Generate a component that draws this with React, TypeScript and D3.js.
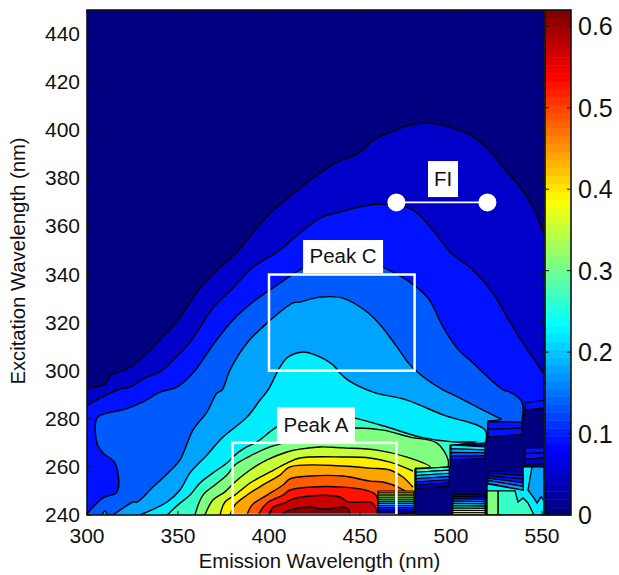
import React from 'react'
import * as d3 from 'd3'

type Pt = [number, number]

const W = 619
const H = 575
const plot = { left: 87, right: 544, top: 10, bottom: 515 }
const bar = { left: 545, right: 571 }

const xTicks = [300, 350, 400, 450, 500, 550]
const yTicks = [240, 260, 280, 300, 320, 340, 360, 380, 400, 420, 440]
const barTicks = [0, 0.1, 0.2, 0.3, 0.4, 0.5, 0.6]

// one value per filled band, 0 is the background
const bandValues = [0, 0.0443, 0.0886, 0.1329, 0.1771, 0.2214, 0.2657, 0.31, 0.3543, 0.3986, 0.4429, 0.4871, 0.5314, 0.5757, 0.62]

// contour lines as [emission, excitation]
const c01: Pt[] = [[300, 292.8], [300.5, 292.8], [309.9, 294.5], [312.6, 297.8], [323.6, 301.5], [333, 307.4], [341.2, 314], [350, 321.1], [360.4, 332.7], [371.4, 341.9], [382.4, 349.4], [392.3, 358.5], [400.6, 365.6], [417, 376], [426.4, 381.4], [437.4, 386.8], [450, 390.9], [457.2, 395.9], [468.1, 399.7], [477.5, 402.2], [488.5, 403], [499.5, 401.3], [510.5, 398], [519.8, 392.6], [528.6, 384.7], [537.9, 376.4], [545.1, 368.1], [552, 355]]
const c02: Pt[] = [[300, 285], [300.5, 285.7], [307.1, 288.6], [318.1, 292.4], [323.6, 293.2], [333, 297.4], [340.1, 299.5], [347.3, 304.4], [356.6, 311.9], [369.2, 326.1], [380.2, 334.4], [391.2, 343.1], [406, 350.2], [417, 357.3], [428, 363.5], [439, 366], [451.7, 368.5], [462.7, 369.3], [472, 368.9], [481.3, 365.6], [490.1, 358.5], [499.5, 349.4], [512.1, 341.9], [523.1, 332.3], [530.8, 322.3], [539.6, 311.5], [552, 298]]
const c03: Pt[] = [[300, 240.5], [308.8, 247.1], [316.5, 249.6], [315.4, 261.6], [308.8, 265.8], [305.5, 269.9], [305.5, 280.3], [311, 282.4], [319.8, 283.7], [330.8, 287], [340.1, 291.1], [349.5, 293.2], [358.2, 299], [369.2, 310.7], [380.2, 321.1], [391.2, 328.6], [406, 336.5], [417, 341.9], [428, 346], [441.8, 348.1], [452.8, 346.9], [462.7, 343.1], [475.8, 337.7], [487.4, 330.2], [495.6, 318.2], [503.3, 309.4], [512.1, 303.2], [528.6, 292], [532.4, 291.1], [539, 287], [539, 279]]
const c04: Pt[] = [[308.2, 240], [309.9, 241.7], [311.5, 240], [313.7, 240], [325.3, 245.4], [327.5, 245.4], [335.7, 251.2], [344.5, 257.5], [351.1, 262.9], [358.2, 275.3], [365.9, 282.8], [371.4, 290.7], [374.2, 292], [378.6, 300.3], [387.9, 311.5], [398.9, 319.8], [413.2, 328.2], [417, 328.6], [428, 330.6], [440.7, 330.2], [453.9, 324.4], [462.1, 318.2], [470.3, 309.9], [479.1, 301.1], [495.6, 292], [499.5, 290.7], [514.3, 284.9], [525.3, 280.7], [527.5, 279.9], [520.3, 279.1]]
const c05: Pt[] = [[329.1, 240], [344, 245.4], [351.1, 250.4], [356.6, 257.5], [365.9, 264.9], [374.7, 272.4], [387.9, 280.7], [395.1, 287.8], [399.5, 292], [406, 301.5], [410.5, 305.7], [418.7, 307.8], [424.2, 306.9], [435.2, 302.4], [439, 299], [443.4, 296.1], [457.2, 291.1], [475.8, 287.8], [495.6, 281.6], [518.7, 275.3], [518.7, 269.1]]
const c06: Pt[] = [[344, 240], [350, 244.2], [356.6, 248.3], [362.1, 253.3], [369.2, 257.5], [376.9, 261.6], [381.3, 264.9], [386.8, 267.9], [393.4, 270.4], [404.4, 276.6], [417, 280.3], [433.5, 282.4], [447.3, 280.3], [464.9, 276.6], [483, 272.4], [501.1, 270.4], [514.3, 270.4], [501.1, 269.1]]
const c07: Pt[] = [[359.3, 240], [363.7, 248.3], [370.3, 252.5], [376.9, 256.6], [381.3, 260.8], [388.5, 264.1], [400.6, 268.3], [407.7, 269.9], [417, 272.8], [433.5, 275.3], [447.3, 276.2], [462.7, 275.3], [477.5, 272.4], [492.3, 269.9], [498.4, 262.9], [498.4, 260]]
const c08: Pt[] = [[364.8, 240], [369.2, 246.2], [375.8, 249.6], [381.3, 253.7], [389.6, 258.7], [398.9, 262.9], [409.9, 266.2], [417, 267.4], [428, 268.3], [440.7, 267.9], [459.4, 267], [475.8, 264.1], [488.5, 260], [480.2, 259.5]]
const c09: Pt[] = [[373.1, 240], [375.8, 245.4], [381.3, 248.3], [389.6, 253.3], [400.6, 257.9], [409.9, 261.6], [417, 263.7], [440.7, 264.1], [455.5, 263.7], [466.5, 262], [479.1, 258.3]]
const c10: Pt[] = [[378.6, 240], [381.3, 244.2], [387.9, 248.3], [396.7, 252.5], [406, 256.6], [411.5, 260], [440.7, 260.4], [455.5, 259.5], [466.5, 258.7], [473.6, 255.8], [479.1, 251.6]]
const c11: Pt[] = [[387.9, 240], [390.7, 244.2], [398.9, 248.3], [407.7, 252.5], [411.5, 255], [422.5, 256.2], [440.7, 256.2], [455.5, 254.1], [462.7, 253.7], [472, 251.2], [476.4, 249.1]]
const c12: Pt[] = [[394, 240], [398.9, 245], [407.7, 248.3], [411.5, 250.4], [422.5, 251.6], [440.7, 251.6], [452.8, 250.4], [458.8, 248.3], [459.9, 240]]
const c13: Pt[] = [[400.6, 240], [401.7, 242.9], [409.9, 245.4], [411.5, 246.2], [422.5, 247.9], [439, 247.5], [443.4, 245.4], [456.6, 245], [459.9, 240]]
const c14: Pt[] = [[406, 240], [411.5, 242.1], [422.5, 243.3], [429.7, 242.5], [442.9, 242.9], [444.5, 240]]
const contourLines = [c01, c02, c03, c04, c05, c06, c07, c08, c09, c10, c11, c12, c13, c14]

// the stepped part on the right, where the signal drops out
const floorNavy: Pt[] = [[480.2, 240], [480.2, 259.1], [499.5, 260], [499.5, 269], [519.5, 270], [520.3, 279], [539.3, 278.5], [540.7, 283.7], [552, 284.5], [552, 240]]
const patch4: Pt[] = [[540, 240], [540, 260], [552, 260], [552, 240]]
const patch5: Pt[] = [[519.8, 240], [519.8, 252.9], [539.6, 250.4], [539.6, 260], [544.5, 260], [542.3, 250.4], [545.1, 247.5], [547.3, 245], [549.5, 247.5], [552, 245], [552, 240]]
const patch6: Pt[] = [[525.8, 240], [525.8, 250], [535.2, 250], [536.8, 245.4], [539.6, 247.1], [542.3, 245], [545.6, 240]]
const patch7: Pt[] = [[519.8, 240], [519.8, 250], [525.8, 250], [525.8, 240]]

// stripes: em range, top ex at both ends, bottom ex at both ends, bands from top to bottom
type Stripes = { em: Pt; top: Pt; low: Pt; bands: number[] }
const stripes1: Stripes = { em: [459.9, 479.7], top: [250, 250], low: [240.5, 240.5], bands: [10, 9, 8, 7, 6, 5, 4, 3, 2, 1, 0] }
const stripes2: Stripes = { em: [480.8, 499], top: [259.1, 260], low: [251, 252], bands: [6, 5, 4, 3, 2, 1] }
const stripes3: Stripes = { em: [500, 518.7], top: [269.1, 268.3], low: [263, 263.5], bands: [5, 4, 3, 2] }
const stripes4: Stripes = { em: [501, 518.7], top: [248.7, 248.3], low: [240, 240], bands: [1, 2, 3, 4, 5, 6, 7, 8, 9] }
const stripes5: Stripes = { em: [520.3, 539], top: [278.8, 278.6], low: [272.4, 273.6], bands: [2, 2] }
const stripes6: Stripes = { em: [520.3, 539.6], top: [258.3, 258], low: [253.3, 250.4], bands: [1, 2, 2, 3, 4] }
const stripes7: Stripes = { em: [540.7, 552], top: [267.9, 268], low: [261, 261.5], bands: [2, 2, 1] }
const stripes8: Stripes = { em: [540.7, 552], top: [286.6, 287.8], low: [283.7, 284.5], bands: [2] }
const stripeSets = [stripes1, stripes2, stripes3, stripes4, stripes5, stripes6, stripes7, stripes8]

const peakBoxes = [
  { em: [400, 480], ex: [300, 340] },
  { em: [380, 470], ex: [240, 270] },
]
const fiPoints: Pt[] = [[470, 370], [520, 370]]
const boxLabels = [
  { text: 'Peak C', em: 440.7, ex: 347.5, w: 80, h: 33 },
  { text: 'Peak A', em: 425.8, ex: 277.5, w: 78, h: 35 },
  { text: 'FI', em: 495.6, ex: 379.7, w: 30, h: 36 },
]

const clamp = (v: number) => Math.max(0, Math.min(1, v))
const jet = (t: number) => {
  const r = clamp(Math.min(4 * t - 1.5, -4 * t + 4.5))
  const g = clamp(Math.min(4 * t - 0.5, -4 * t + 3.5))
  const b = clamp(Math.min(4 * t + 0.5, -4 * t + 2.5))
  return d3.rgb(r * 255, g * 255, b * 255).formatHex()
}

const font = '"Liberation Sans", Arial, sans-serif'

export default function App() {
  const x = d3.scaleLinear().domain([300, 551.1]).range([plot.left, plot.right])
  const y = d3.scaleLinear().domain([240, 450]).range([plot.bottom, plot.top])
  const cbar = d3.scaleLinear().domain([0, 0.62]).range([plot.bottom, plot.top])
  const line = d3.line<Pt>().x(d => x(d[0])).y(d => y(d[1]))
  const smooth = d3.line<Pt>().x(d => x(d[0])).y(d => y(d[1])).curve(d3.curveCatmullRom.alpha(0.5))
  const bandColor = (i: number) => jet(bandValues[i] / 0.62)

  // fill under a contour: follow the line, then drop to the bottom of the axes
  const closed = (pts: Pt[]) => {
    const first = pts[0]
    const last = pts[pts.length - 1]
    return `${smooth(pts)}L${x(last[0])},${y(240)}L${x(first[0])},${y(240)}Z`
  }

  const barSteps = d3.range(64)
  const barH = (plot.bottom - plot.top) / 64

  const renderStripes = (s: Stripes, k: number) => {
    const n = s.bands.length
    const edge = (j: number, side: number) => s.top[side] + (s.low[side] - s.top[side]) * (j / n)
    return (
      <g key={k}>
        {s.bands.map((b, j) => {
          const quad: Pt[] = [
            [s.em[0], edge(j, 0)],
            [s.em[1], edge(j, 1)],
            [s.em[1], edge(j + 1, 1)],
            [s.em[0], edge(j + 1, 0)],
          ]
          return <path key={j} d={line(quad) + 'Z'} fill={bandColor(b)} stroke="#000" strokeWidth={1.1} />
        })}
      </g>
    )
  }

  const patches: [Pt[], number][] = [[floorNavy, 0], [patch4, 4], [patch5, 5], [patch6, 6], [patch7, 7]]

  return (
    <svg width={W} height={H} style={{ position: 'absolute', left: 0, top: 0, background: '#fff' }} fontFamily={font}>
      <defs>
        <clipPath id="plotClip">
          <rect x={plot.left} y={plot.top} width={plot.right - plot.left} height={plot.bottom - plot.top} />
        </clipPath>
      </defs>
      <g clipPath="url(#plotClip)">
        <rect x={plot.left} y={plot.top} width={plot.right - plot.left} height={plot.bottom - plot.top} fill={bandColor(0)} />
        {contourLines.map((pts, i) => (
          <g key={i}>
            <path d={closed(pts)} fill={bandColor(i + 1)} />
            <path d={smooth(pts) ?? ''} fill="none" stroke="#000" strokeWidth={1.4} strokeLinejoin="round" />
          </g>
        ))}
        {patches.map(([pts, b], i) => (
          <path key={i} d={line(pts) + 'Z'} fill={bandColor(b)} stroke="#000" strokeWidth={1.3} />
        ))}
        {stripeSets.map(renderStripes)}
      </g>

      {peakBoxes.map((b, i) => (
        <rect
          key={i}
          x={x(b.em[0])}
          y={y(b.ex[1])}
          width={x(b.em[1]) - x(b.em[0])}
          height={y(b.ex[0]) - y(b.ex[1])}
          fill="none"
          stroke="#fff"
          strokeWidth={2.5}
        />
      ))}
      <path d={line(fiPoints) ?? ''} stroke="#fff" strokeWidth={1.6} fill="none" />
      {fiPoints.map((p, i) => (
        <circle key={i} cx={x(p[0])} cy={y(p[1])} r={9} fill="#fff" />
      ))}
      {boxLabels.map(l => (
        <g key={l.text}>
          <rect x={x(l.em) - l.w / 2} y={y(l.ex) - l.h / 2} width={l.w} height={l.h} fill="#fff" />
          <text x={x(l.em)} y={y(l.ex) + 7} textAnchor="middle" fontSize={20.5} fill="#111">{l.text}</text>
        </g>
      ))}

      {/* colour bar */}
      {barSteps.map(i => (
        <rect key={i} x={bar.left} y={plot.bottom - (i + 1) * barH} width={bar.right - bar.left} height={barH + 0.5} fill={jet(i / 63)} />
      ))}
      <rect x={bar.left} y={plot.top} width={bar.right - bar.left} height={plot.bottom - plot.top} fill="none" stroke="#111" strokeWidth={1.6} />
      {barTicks.map(t => (
        <g key={t}>
          <line x1={bar.left} x2={bar.left + 4} y1={cbar(t)} y2={cbar(t)} stroke="#111" />
          <line x1={bar.right - 4} x2={bar.right} y1={cbar(t)} y2={cbar(t)} stroke="#111" />
          <text x={578} y={cbar(t) + 9} fontSize={25} fill="#111">{t}</text>
        </g>
      ))}

      {/* axes */}
      <rect x={plot.left} y={plot.top} width={plot.right - plot.left} height={plot.bottom - plot.top} fill="none" stroke="#111" strokeWidth={1.6} />
      {xTicks.map(t => (
        <g key={t}>
          <line x1={x(t)} x2={x(t)} y1={plot.bottom} y2={plot.bottom - 4} stroke="#111" />
          <line x1={x(t)} x2={x(t)} y1={plot.top} y2={plot.top + 4} stroke="#111" />
          <text x={x(t)} y={543} textAnchor="middle" fontSize={21} fill="#111">{t}</text>
        </g>
      ))}
      {yTicks.map(t => (
        <g key={t}>
          <line x1={plot.left} x2={plot.left + 4} y1={y(t)} y2={y(t)} stroke="#111" />
          <line x1={plot.right - 4} x2={plot.right} y1={y(t)} y2={y(t)} stroke="#111" />
          <text x={80} y={y(t) + 7} textAnchor="end" fontSize={21} fill="#111">{t}</text>
        </g>
      ))}
      <text x={319.5} y={568} textAnchor="middle" fontSize={20.3} fill="#111">Emission Wavelength (nm)</text>
      <text transform="translate(25,261) rotate(-90)" textAnchor="middle" fontSize={20.3} fill="#111">Excitation Wavelength (nm)</text>
    </svg>
  )
}
